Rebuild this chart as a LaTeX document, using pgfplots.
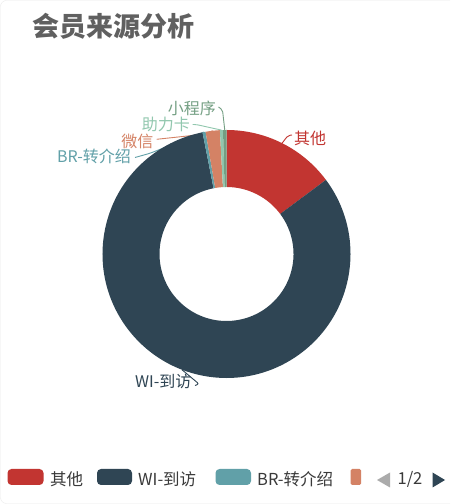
\documentclass[border=0pt]{standalone}
\usepackage{pgfplots}
\pgfplotsset{compat=1.18}
\usepackage{pgfplotstable}
\usepackage{fontspec}
\setmainfont{Noto Sans CJK SC}

\definecolor{seg0}{HTML}{C23531}
\definecolor{seg1}{HTML}{2F4554}
\definecolor{seg2}{HTML}{61A0A8}
\definecolor{seg3}{HTML}{D48265}
\definecolor{seg4}{HTML}{91C7AE}
\definecolor{seg5}{HTML}{749F83}
\definecolor{titlegray}{HTML}{606060}
\definecolor{legendtext}{HTML}{3A3A3A}

% share of each source (percent), clockwise from 12 o'clock:
% 其他, WI-到访, BR-转介绍, 微信, 助力卡, 小程序
\pgfplotstableread{
value
14.8
82.1
0.4
1.85
0.4
0.45
}\sourcedata

\newcommand{\fs}[1]{\fontsize{#1bp}{#1bp}\selectfont}

% donut centre and radii, in bp (= axis units)
\def\cx{226.5}
\def\cy{250}
\def\ro{124}
\def\ri{67}

\begin{document}
\begin{tikzpicture}
\begin{axis}[
    x=1bp, y=1bp,
    xmin=0, xmax=450, ymin=0, ymax=504,
    hide axis, clip=false,
]
\pgfplotsextra{
  \fill[white] (axis cs:0,0) rectangle (axis cs:450,504);
  % card border, open on the right
  \draw[black!8, rounded corners=6bp] (axis cs:450,0.5) -- (axis cs:0.5,0.5)
    -- (axis cs:0.5,503.5) -- (axis cs:450,503.5);

  \pgfplotstablegetrowsof{\sourcedata}
  \pgfmathtruncatemacro\lastrow{\pgfplotsretval-1}

  % label line anchors at the middle of each slice
  \xdef\cum{0}
  \foreach \i in {0,...,\lastrow}{
    \pgfplotstablegetelem{\i}{value}\of\sourcedata
    \let\v\pgfplotsretval
    \pgfmathsetmacro\ma{90-3.6*(\cum+\v/2)}
    \pgfmathsetmacro\mx{\cx+\ro*cos(\ma)}
    \pgfmathsetmacro\my{\cy+\ro*sin(\ma)}
    \coordinate (m\i) at (axis cs:\mx,\my);
    \pgfmathsetmacro\nc{\cum+\v}
    \xdef\cum{\nc}
  }

  % label lines (drawn first, the ring covers their inner ends)
  \begin{scope}[line width=0.9bp, rounded corners=2bp]
    \draw[seg0] (m0) -- (axis cs:288,368.5) -- (axis cs:292,369);
    \draw[seg1] (m1) -- (axis cs:199,120) -- (axis cs:195,118.5);
    \draw[seg2] (m2) -- (axis cs:150,350.7) -- (axis cs:135,346.5);
    \draw[seg3] (m3) -- (axis cs:203.3,369.7) -- (axis cs:156.7,364.7);
    \draw[seg4] (m4) -- (axis cs:196,379.5) -- (axis cs:192.5,379.5);
    \draw[seg5] (m5) -- (axis cs:222.5,394) -- (axis cs:218.5,397);
  \end{scope}

  % ring
  \xdef\cum{0}
  \foreach \i in {0,...,\lastrow}{
    \pgfplotstablegetelem{\i}{value}\of\sourcedata
    \let\v\pgfplotsretval
    \pgfmathsetmacro\sa{90-3.6*\cum}
    \pgfmathsetmacro\ea{90-3.6*(\cum+\v)}
    \fill[seg\i] (axis cs:\cx,\cy) ++(\sa:\ro bp)
      arc[start angle=\sa, end angle=\ea, radius=\ro bp]
      -- ++(\ea+180:\ro bp-\ri bp)
      arc[start angle=\ea, end angle=\sa, radius=\ri bp] -- cycle;
    \pgfmathsetmacro\nc{\cum+\v}
    \xdef\cum{\nc}
  }

  % slice labels
  \begin{scope}[every node/.style={inner sep=0pt, font=\fs{16}}]
    \node[anchor=west, text=seg0] at (axis cs:294,365.7) {其他};
    \node[anchor=east, text=seg1] at (axis cs:191.5,122.5) {WI-到访};
    \node[anchor=east, text=seg2] at (axis cs:131,347.3) {BR-转介绍};
    \node[anchor=east, text=seg3] at (axis cs:153.5,362.7) {微信};
    \node[anchor=east, text=seg4] at (axis cs:190,379.3) {助力卡};
    \node[anchor=east, text=seg5] at (axis cs:216,395.3) {小程序};
  \end{scope}

  % title
  \node[anchor=west, inner sep=0pt, text=titlegray, font=\fs{27}\bfseries]
    at (axis cs:32,478) {会员来源分析};

  % legend (first page)
  \begin{scope}[every node/.style={inner sep=0pt, font=\fs{16.5}, text=legendtext}]
    \fill[seg0, rounded corners=4bp] (axis cs:7.5,19) rectangle (axis cs:43.5,35);
    \node[anchor=west] at (axis cs:50,25) {其他};
    \fill[seg1, rounded corners=4bp] (axis cs:97,19) rectangle (axis cs:132,35);
    \node[anchor=west] at (axis cs:138,25) {WI-到访};
    \fill[seg2, rounded corners=4bp] (axis cs:215.5,19) rectangle (axis cs:251,35);
    \node[anchor=west] at (axis cs:257,25) {BR-转介绍};
    \fill[seg3, rounded corners=1.5bp] (axis cs:350.5,19) rectangle (axis cs:361,35);
    \fill[black!33] (axis cs:377,24) -- (axis cs:390,31.5) -- (axis cs:390,16.5) -- cycle;
    \node at (axis cs:410,25) {1/2};
    \fill[seg1] (axis cs:445,24) -- (axis cs:432.5,31.5) -- (axis cs:432.5,16.5) -- cycle;
  \end{scope}
}
\end{axis}
\end{tikzpicture}
\end{document}
